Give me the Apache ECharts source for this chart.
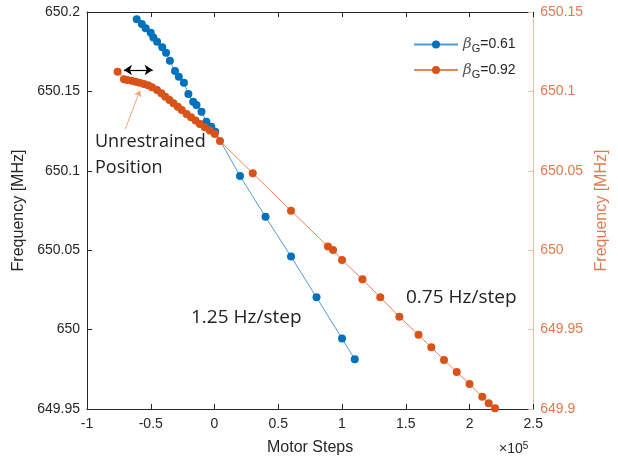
<!DOCTYPE html>
<html>
<head>
<meta charset="utf-8">
<script src="https://cdn.jsdelivr.net/npm/echarts@6/dist/echarts.min.js"></script>
<style>
  html, body { margin: 0; padding: 0; background: #fff; }
  #chart { width: 618px; height: 464px; }
</style>
</head>
<body>
<div id="chart"></div>
<script>
// motor steps in units of 1e5
var stepsBlue = [-0.61, -0.57, -0.54, -0.50, -0.48, -0.45, -0.41, -0.38, -0.35, -0.31, -0.28, -0.24,
                 -0.205, -0.167, -0.141, -0.102, -0.064, -0.025, 0.006,
                 0.2, 0.4, 0.6, 0.8, 1.0, 1.1];
var freqBlue = [650.1954, 650.1924, 650.1897, 650.1870, 650.1840, 650.1813, 650.1778, 650.1744, 650.1693, 650.1628, 650.1593, 650.1555,
                650.1484, 650.1435, 650.1414, 650.1372, 650.1309, 650.1278, 650.1246,
                650.0967, 650.0710, 650.0460, 650.0203, 649.9944, 649.9813];

var stepsOrange = [-0.76, -0.71, -0.684, -0.65, -0.619, -0.588, -0.554, -0.521, -0.49, -0.451, -0.417, -0.386,
                   -0.353, -0.322, -0.288, -0.257, -0.219, -0.184, -0.149, -0.115, -0.076, -0.037, 0.002, 0.043,
                   0.3, 0.6, 0.89, 0.93, 1.0, 1.16, 1.3, 1.45, 1.6, 1.7, 1.8, 1.9, 2.0, 2.1, 2.15, 2.2];
var freqOrange = [650.1124, 650.1076, 650.1072, 650.1067, 650.1061, 650.1055, 650.1047, 650.1038, 650.1026, 650.1009, 650.0988, 650.0967,
                  650.0946, 650.0925, 650.0904, 650.0883, 650.0858, 650.0837, 650.0816, 650.0795, 650.0774, 650.0753, 650.0732, 650.0688,
                  650.0484, 650.0249, 650.0023, 650.0001, 649.9938, 649.9817, 649.9703, 649.9581, 649.9467, 649.9389, 649.9309, 649.9233,
                  649.9157, 649.9077, 649.9036, 649.9004];

var seriesNames = ['0.61', '0.92'];

function zip(xs, ys) {
    return xs.map(function (x, i) { return [x, ys[i]]; });
}
function fmt(v) {
    return String(parseFloat(v.toFixed(2)));
}

var blue = '#0072BD';
var orange = '#D95319';
var axisBlack = '#262626';
var font = 'Liberation Sans, Arial, sans-serif';
var noteFont = 'Open Sans, Noto Sans, sans-serif';

var myChart = echarts.init(document.getElementById('chart'));

var option = {
    animation: false,
    grid: { left: 87, right: 80, top: 12, bottom: 55 },
    legend: {
        orient: 'vertical',
        left: 408,
        top: 32,
        itemWidth: 44,
        itemHeight: 10,
        itemGap: 8,
        data: seriesNames,
        formatter: function (name) {
            return '{b|β}{s|G}{n|=' + name + '}';
        },
        textStyle: {
            color: axisBlack,
            fontFamily: font,
            rich: {
                b: { fontSize: 15, fontStyle: 'italic', color: '#555', fontFamily: 'DejaVu Serif, serif' },
                s: { fontSize: 11, padding: [9, 0, 0, 0], color: axisBlack, fontFamily: font },
                n: { fontSize: 14, color: axisBlack, fontFamily: font }
            }
        }
    },
    xAxis: [{
        type: 'value',
        min: -1, max: 2.5, interval: 0.5,
        name: 'Motor Steps',
        nameLocation: 'middle',
        nameGap: 31,
        nameTextStyle: { color: axisBlack, fontSize: 16, fontFamily: font },
        axisLine: { onZero: false, lineStyle: { color: axisBlack, width: 1 } },
        axisTick: { inside: true, length: 5, lineStyle: { color: axisBlack } },
        axisLabel: { color: axisBlack, fontSize: 14, fontFamily: font, margin: 8, formatter: fmt },
        splitLine: { show: false }
    }, {
        type: 'value',
        position: 'top',
        min: -1, max: 2.5, interval: 0.5,
        axisLine: { onZero: false, lineStyle: { color: axisBlack, width: 1 } },
        axisTick: { inside: true, length: 5, lineStyle: { color: axisBlack } },
        axisLabel: { show: false },
        splitLine: { show: false }
    }],
    yAxis: [{
        type: 'value',
        min: 649.95, max: 650.2, interval: 0.05,
        name: 'Frequency [MHz]',
        nameLocation: 'middle',
        nameGap: 60,
        nameRotate: 90,
        nameTextStyle: { color: axisBlack, fontSize: 16, fontFamily: font },
        axisLine: { show: true, onZero: false, lineStyle: { color: axisBlack, width: 1 } },
        axisTick: { show: true, inside: true, length: 5, lineStyle: { color: axisBlack } },
        axisLabel: { color: axisBlack, fontSize: 14, fontFamily: font, margin: 7, formatter: fmt },
        splitLine: { show: false }
    }, {
        type: 'value',
        position: 'right',
        min: 649.9, max: 650.15, interval: 0.05,
        name: 'Frequency [MHz]',
        nameLocation: 'middle',
        nameGap: 60,
        nameRotate: 90,
        nameTextStyle: { color: '#E07A50', fontSize: 16, fontFamily: font },
        axisLine: { show: true, onZero: false, lineStyle: { color: '#F2BBA3', width: 1 } },
        axisTick: { show: true, inside: true, length: 5, lineStyle: { color: '#F2BBA3' } },
        axisLabel: { color: '#E07A50', fontSize: 14, fontFamily: font, margin: 7, formatter: fmt },
        splitLine: { show: false }
    }],
    series: [{
        name: seriesNames[0],
        type: 'line',
        xAxisIndex: 0,
        yAxisIndex: 0,
        data: zip(stepsBlue, freqBlue),
        symbol: 'circle',
        symbolSize: 8,
        itemStyle: { color: blue },
        lineStyle: { color: '#4D9BD6', width: 1 }
    }, {
        name: seriesNames[1],
        type: 'line',
        xAxisIndex: 0,
        yAxisIndex: 1,
        data: zip(stepsOrange, freqOrange),
        symbol: 'circle',
        symbolSize: 8,
        itemStyle: { color: orange },
        lineStyle: { color: '#E4855A', width: 1 },
        markLine: {
            silent: true,
            animation: false,
            label: { show: false },
            symbolSize: 8,
            data: [
                [
                    { coord: [-0.71, 650.1135], symbol: 'arrow', lineStyle: { color: '#000', width: 1.2, type: 'solid' } },
                    { coord: [-0.485, 650.1135], symbol: 'arrow' }
                ],
                [
                    { coord: [-0.70, 650.0763], symbol: 'none', lineStyle: { color: '#F0A478', width: 1, type: 'solid' } },
                    { coord: [-0.585, 650.1005], symbol: 'arrow', symbolSize: 6 }
                ]
            ]
        }
    }],
    graphic: [
        { type: 'text', left: 95, top: 133, style: { text: 'Unrestrained', fontSize: 18, fontFamily: noteFont, fill: '#222' } },
        { type: 'text', left: 95, top: 159, style: { text: 'Position', fontSize: 18, fontFamily: noteFont, fill: '#222' } },
        { type: 'text', left: 191, top: 308, style: { text: '1.25 Hz/step', fontSize: 19, fontFamily: noteFont, fill: '#222' } },
        { type: 'text', left: 406, top: 288, style: { text: '0.75 Hz/step', fontSize: 19, fontFamily: noteFont, fill: '#222' } },
        {
            type: 'text', left: 499, top: 441,
            style: {
                text: '{a|×10}{b|5}',
                rich: {
                    a: { fontSize: 14, fontFamily: font, fill: axisBlack, padding: [6, 0, 0, 0] },
                    b: { fontSize: 10, fontFamily: font, fill: axisBlack }
                }
            }
        }
    ]
};

myChart.setOption(option);
</script>
</body>
</html>
